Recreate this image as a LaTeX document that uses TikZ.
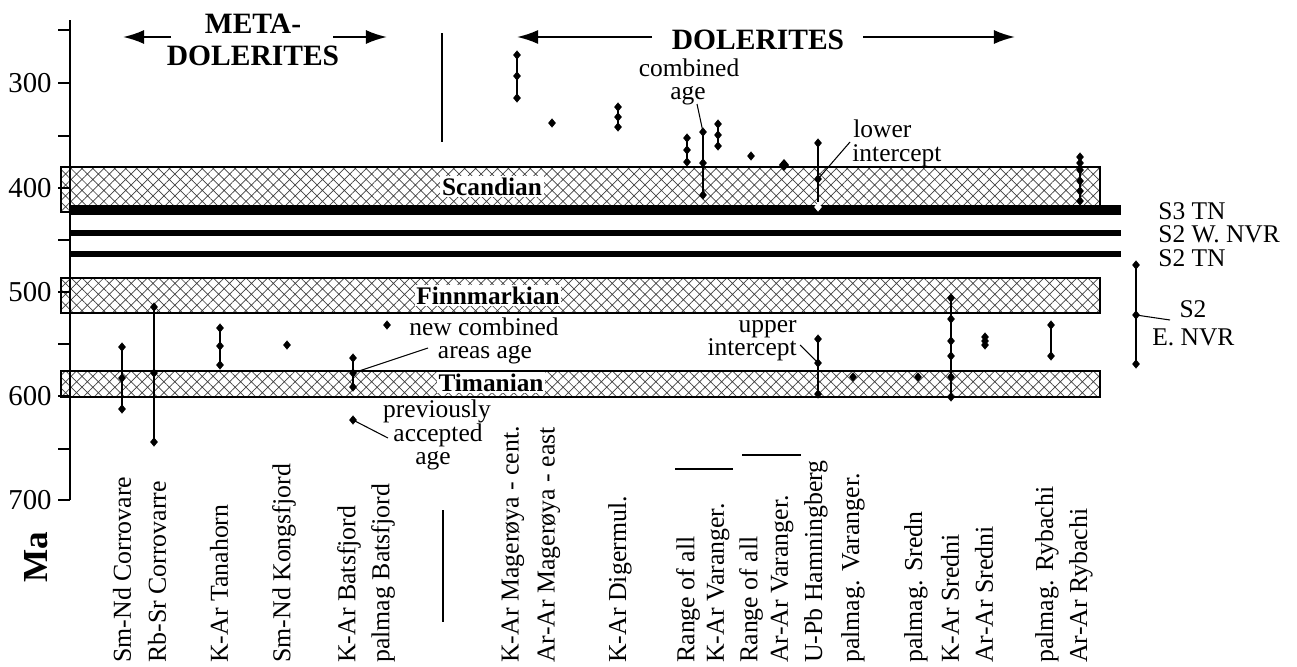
\documentclass[tikz,border=0pt]{standalone}
\usepackage{fontspec}
\setmainfont{Liberation Serif}
\usetikzlibrary{shapes.geometric,patterns.meta,arrows.meta}
\begin{document}
\begin{tikzpicture}[x=0.02cm,y=-0.02cm,
  dia/.style={diamond,fill=black,inner sep=0pt,minimum width=4.6pt,minimum height=5.4pt},
  wdia/.style={dia,fill=white},
  bigdia/.style={dia,minimum width=6pt,minimum height=7pt},
  bar/.style={line width=1.1pt},
  lbl/.style={rotate=90,anchor=west,inner sep=0pt,font=\fontsize{14.7}{16}\selectfont},
  txt/.style={inner sep=0pt,font=\fontsize{14.5}{16}\selectfont,anchor=base},
  num/.style={inner sep=0pt,font=\fontsize{16.4}{18}\selectfont,anchor=east},
  head/.style={inner sep=0pt,font=\fontsize{16.8}{18}\selectfont\bfseries,anchor=base},
  band/.style={draw=black,line width=0.6pt,pattern={Hatch[angle=45,distance=4.4pt,line width=0.4pt]},pattern color=black!75},
  blabel/.style={fill=white,inner sep=1pt,font=\fontsize{14.4}{16}\selectfont\bfseries,anchor=base},
  leader/.style={line width=0.6pt},
  harrow/.style={line width=1.2pt,-{Latex[length=12pt,width=8pt]}},
  sline/.style={line width=1.1pt}]
\useasboundingbox (0,0) rectangle (1297,666);

% bands
\draw[band] (61,167) rectangle (1100,212);
\draw[band] (61,278) rectangle (1100,313);
\draw[band] (61,371) rectangle (1100,397);

% thrust lines
\draw[line width=6.2pt] (70,210) -- (1121,210);
\draw[line width=3.2pt] (70,233) -- (1121,233);
\draw[line width=3.2pt] (70,254) -- (1121,254);

% axis
\draw[line width=0.7pt] (70,20) -- (70,500);
\foreach \yy in {30,83,136,188,240,292,344,396,449,500}
  \draw[line width=0.7pt] (58,\yy) -- (70,\yy);
\node[num] (n300) at (52,83) {300};
\node[num] (n400) at (52,188) {400};
\node[num] (n500) at (52,292) {500};
\node[num] (n600) at (52,396) {600};
\node[num] (n700) at (52,500) {700};
\node[rotate=90,inner sep=0pt,font=\fontsize{20}{22}\selectfont\bfseries] (ma) at (36,557) {Ma};

% band labels
\node[blabel] (scan) at (492,195) {Scandian};
\node[blabel] (finn) at (488,304) {Finnmarkian};
\node[blabel] (tim) at (491,391) {Timanian};

% headings
\node[head] (meta1) at (253,33) {META-};
\node[head] (meta2) at (253,65) {DOLERITES};
\node[head] (dol) at (758,49) {DOLERITES};
\coordinate (ma1) at (171,37); \coordinate (ma2) at (123,37);
\coordinate (ma3) at (333,37); \coordinate (ma4) at (387,37);
\coordinate (da1) at (652,37); \coordinate (da2) at (517,37);
\coordinate (da3) at (863,37); \coordinate (da4) at (1015,37);
\draw[harrow] (ma1) -- (ma2);
\draw[harrow] (ma3) -- (ma4);
\draw[harrow] (da1) -- (da2);
\draw[harrow] (da3) -- (da4);

% dividers
\coordinate (dv1) at (442,33); \coordinate (dv2) at (442,142);
\coordinate (dv3) at (443,510); \coordinate (dv4) at (443,622);
\draw[sline] (dv1) -- (dv2);
\draw[sline] (dv3) -- (dv4);
\coordinate (rk1) at (675,469); \coordinate (rk2) at (733,469);
\coordinate (ra1) at (742,455); \coordinate (ra2) at (801,455);
\draw[line width=1pt] (rk1) -- (rk2);
\draw[line width=1pt] (ra1) -- (ra2);

% ---- meta-dolerite data
\node[dia] (c1a) at (122,347) {}; \node[dia] (c1b) at (122,378) {}; \node[dia] (c1c) at (122,409) {};
\draw[bar] (c1a.center) -- (c1c.center);
\node[dia] (c2a) at (154,307) {}; \node[dia] (c2b) at (154,373) {}; \node[dia] (c2c) at (154,442) {};
\draw[bar] (c2a.center) -- (c2c.center);
\node[dia] (c3a) at (220,328) {}; \node[dia] (c3b) at (220,346) {}; \node[dia] (c3c) at (220,365) {};
\draw[bar] (c3a.center) -- (c3c.center);
\node[dia] (c4a) at (287,345) {};
\node[dia] (c5a) at (353,358) {}; \node[dia] (c5b) at (353,373) {}; \node[dia] (c5c) at (353,387) {};
\draw[bar] (c5a.center) -- (c5c.center);
\node[dia] (c5p) at (353,420) {};
\node[dia] (c6a) at (387,325) {};

% ---- dolerite data
\node[dia] (d1a) at (517,55) {}; \node[dia] (d1b) at (517,76) {}; \node[dia] (d1c) at (517,98) {};
\draw[bar] (d1a.center) -- (d1c.center);
\node[dia] (d2a) at (552,123) {};
\node[dia] (d3a) at (618,107) {}; \node[dia] (d3b) at (618,117) {}; \node[dia] (d3c) at (618,127) {};
\draw[bar] (d3a.center) -- (d3c.center);
\node[dia] (d4a) at (687,138) {}; \node[dia] (d4b) at (687,150) {}; \node[dia] (d4c) at (687,162) {};
\draw[bar] (d4a.center) -- (d4c.center);
\node[dia] (d5a) at (703,132) {}; \node[dia] (d5b) at (703,163) {}; \node[dia] (d5c) at (703,195) {};
\draw[bar] (d5a.center) -- (d5c.center);
\node[dia] (d6a) at (718,124) {}; \node[dia] (d6b) at (718,135) {}; \node[dia] (d6c) at (718,146) {};
\draw[bar] (d6a.center) -- (d6c.center);
\node[dia] (d7a) at (751,156) {};
\node[bigdia] (d8a) at (784,165) {};
\node[dia] (d9a) at (818,143) {}; \node[dia] (d9b) at (818,179) {}; \node[wdia] (d9c) at (818,207) {};
\draw[bar] (d9a.center) -- (d9c.north);
\node[dia] (u9a) at (818,339) {}; \node[dia] (u9b) at (818,363) {}; \node[dia] (u9c) at (818,394) {};
\draw[bar] (u9a.center) -- (u9c.center);
\node[dia] (d10a) at (853,377) {};
\node[dia] (d11a) at (918,377) {};
\node[dia] (d12a) at (951,298) {}; \node[dia] (d12b) at (951,319) {}; \node[dia] (d12c) at (951,341) {};
\node[dia] (d12d) at (951,356) {}; \node[dia] (d12e) at (951,377) {}; \node[dia] (d12f) at (951,397) {};
\draw[bar] (d12a.center) -- (d12f.center);
\node[dia] (d13a) at (985,337) {}; \node[dia] (d13b) at (985,341) {}; \node[dia] (d13c) at (985,345) {};
\node[dia] (d14a) at (1051,325) {}; \node[dia] (d14b) at (1051,356) {};
\draw[bar] (d14a.center) -- (d14b.center);
\node[dia] (d15a) at (1080,157) {}; \node[dia] (d15b) at (1080,163) {}; \node[dia] (d15c) at (1080,170) {};
\node[dia] (d15d) at (1080,181) {}; \node[dia] (d15e) at (1080,191) {}; \node[dia] (d15f) at (1080,201) {};
\draw[bar] (d15a.center) -- (d15f.center);
\node[dia] (s2a) at (1136,265) {}; \node[dia] (s2b) at (1136,315) {}; \node[dia] (s2c) at (1136,364) {};
\draw[bar] (s2a.center) -- (s2c.center);

% ---- annotations
\node[txt] (comb1) at (689,76) {combined};
\node[txt] (comb2) at (688,99) {age};
\coordinate (combL) at (697,104);
\draw[leader] (combL) -- (d5a.center);

\node[txt,anchor=base west] (low1) at (853,137) {lower};
\node[txt,anchor=base west] (low2) at (852,161) {intercept};
\coordinate (lowL) at (850,142);
\draw[leader] (lowL) -- (d9b.center);

\node[txt,anchor=base east] (up1) at (797,332) {upper};
\node[txt,anchor=base east] (up2) at (797,355) {intercept};
\coordinate (upL) at (800,345);
\draw[leader] (upL) -- (u9b.center);

\node[txt] (new1) at (484,335) {new combined};
\node[txt] (new2) at (485,358) {areas age};
\coordinate (newL) at (428,348);
\draw[leader] (newL) -- (c5b.center);

\node[txt] (prev1) at (437,417) {previously};
\node[txt] (prev2) at (438,441) {accepted};
\node[txt] (prev3) at (433,464) {age};
\coordinate (prevL) at (388,438);
\draw[leader] (prevL) -- (c5p.center);

\node[txt,anchor=base west] (r1) at (1158,219) {S3 TN};
\node[txt,anchor=base west] (r2) at (1158,242) {S2 W. NVR};
\node[txt,anchor=base west] (r3) at (1158,266) {S2 TN};
\node[txt] (r4) at (1193,317) {S2};
\node[txt,anchor=base west] (r5) at (1152,345) {E. NVR};
\coordinate (s2L) at (1170,320);
\draw[leader] (s2L) -- (s2b.center);

% ---- column labels
\node[lbl] (l1) at (122,663) {Sm-Nd Corrovare};
\node[lbl] (l2) at (157,663) {Rb-Sr Corrovarre};
\node[lbl] (l3) at (219,663) {K-Ar Tanahorn};
\node[lbl] (l4) at (284,663) {Sm-Nd Kongsfjord};
\node[lbl] (l5) at (349,663) {K-Ar Batsfjord};
\node[lbl] (l6) at (383,663) {palmag Batsfjord};
\node[lbl] (l7) at (513,663) {K-Ar Magerøya - cent.};
\node[lbl] (l8) at (549,663) {Ar-Ar Magerøya - east};
\node[lbl] (l9) at (620,663) {K-Ar Digermul.};
\node[lbl] (l10) at (688,663) {Range of all};
\node[lbl] (l11) at (718,663) {K-Ar Varanger.};
\node[lbl] (l12) at (751,663) {Range of all};
\node[lbl] (l13) at (782,663) {Ar-Ar Varanger.};
\node[lbl] (l14) at (816,663) {U-Pb Hamningberg};
\node[lbl] (l15) at (853,663) {palmag. Varanger.};
\node[lbl] (l16) at (916,663) {palmag. Sredn};
\node[lbl] (l17) at (950,663) {K-Ar Sredni};
\node[lbl] (l18) at (984,663) {Ar-Ar Sredni};
\node[lbl] (l19) at (1047,663) {palmag. Rybachi};
\node[lbl] (l20) at (1081,663) {Ar-Ar Rybachi};
\end{tikzpicture}
\end{document}
